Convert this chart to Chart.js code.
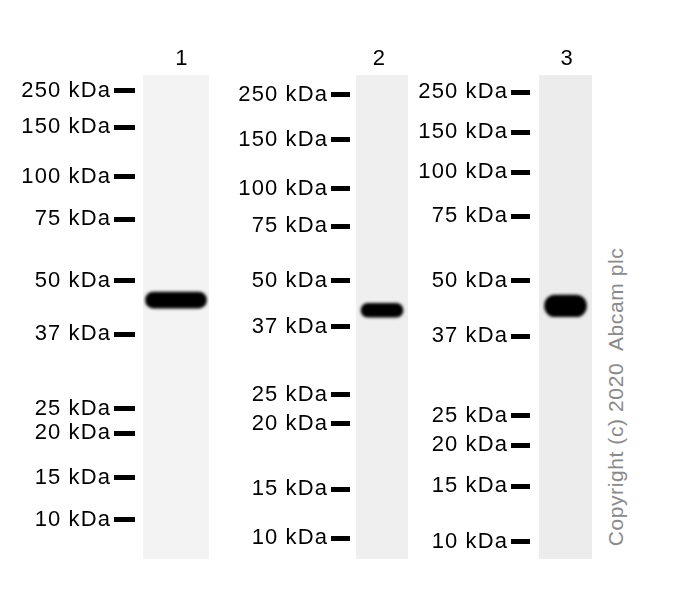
<!DOCTYPE html>
<html><head><meta charset="utf-8">
<script src="https://cdn.jsdelivr.net/npm/chart.js@4.4.1/dist/chart.umd.min.js"></script>
<style>
html,body{margin:0;padding:0;background:#fff;}
#wrap{position:relative;width:688px;height:600px;overflow:hidden;background:#fff;}
canvas{position:absolute;top:0;}
#copy{position:absolute;left:616px;top:397px;transform:translate(-50%,-50%) rotate(-90deg);white-space:pre;font:21px "Liberation Sans",Arial,sans-serif;letter-spacing:0.6px;color:#8a8a8a;}
</style></head><body>
<div id="wrap">
<canvas id="c0" width="215" height="600" style="left:0px;width:215px;height:600px"></canvas>
<canvas id="c1" width="200" height="600" style="left:215px;width:200px;height:600px"></canvas>
<canvas id="c2" width="185" height="600" style="left:415px;width:185px;height:600px"></canvas>
<div id="copy">Copyright (c) 2020  Abcam plc</div>
</div>
<script>
// ---- data ----
const laneNames = ['1', '2', '3'];
const markerKDa = [250, 150, 100, 75, 50, 37, 25, 20, 15, 10];
// relative migration (0 = top of lane, 1 = bottom) of each marker, per lane
const markerRfLane1 = [0.032, 0.108, 0.210, 0.298, 0.425, 0.536, 0.690, 0.740, 0.832, 0.919];
const markerRfLane2 = [0.041, 0.134, 0.235, 0.312, 0.425, 0.520, 0.661, 0.720, 0.856, 0.957];
const markerRfLane3 = [0.036, 0.118, 0.201, 0.292, 0.425, 0.540, 0.704, 0.765, 0.850, 0.964];
// detected band: relative migration of centre and band spread
const bandRf = [0.465, 0.486, 0.477];
const bandSpread = [0.033, 0.029, 0.045];

// ---- layout / style (not data) ----
const FONT = '"Liberation Sans", Arial, Helvetica, sans-serif';
const layouts = [
  {axisW: 143, padRight: 6, dash: 21, gap: 8, bar: 61, labelX: 0.59, color: '#f3f3f3'},
  {axisW: 141, padRight: 7, dash: 19, gap: 6, bar: 42, labelX: 0.45, color: '#efefef'},
  {axisW: 124, padRight: 8, dash: 19, gap: 9, bar: 42, labelX: 0.53, color: '#ececec'}
];
const markerRfs = [markerRfLane1, markerRfLane2, markerRfLane3];

const laneBg = {
  id: 'laneBg',
  beforeDraw(chart, args, opts) {
    const {ctx, chartArea: a} = chart;
    ctx.letterSpacing = '1.1px';
    ctx.save();
    ctx.fillStyle = opts.color;
    ctx.fillRect(a.left, a.top, a.right - a.left, a.bottom - a.top);
    ctx.restore();
  },
  beforeDatasetsDraw(chart) {
    chart.ctx.save();
    chart.ctx.filter = 'blur(1.7px)';
  },
  afterDatasetsDraw(chart) {
    chart.ctx.restore();
  }
};

laneNames.forEach((name, i) => {
  const L = layouts[i];
  const rfs = markerRfs[i];
  new Chart(document.getElementById('c' + i), {
    type: 'bar',
    data: {
      datasets: [{
        data: [{x: 0.5, y: [bandRf[i] - bandSpread[i] / 2, bandRf[i] + bandSpread[i] / 2]}],
        backgroundColor: '#000',
        borderWidth: 0,
        borderSkipped: false,
        borderRadius: 14,
        barThickness: L.bar
      }]
    },
    plugins: [laneBg],
    options: {
      responsive: false,
      animation: false,
      events: [],
      layout: {padding: {left: 0, right: L.padRight, top: 0, bottom: 41}},
      plugins: {
        legend: {display: false},
        tooltip: {enabled: false},
        title: {display: false},
        laneBg: {color: L.color}
      },
      scales: {
        x: {
          type: 'linear', position: 'top', min: 0, max: 1, offset: false,
          afterFit: s => { s.height = 75; },
          afterBuildTicks: s => { s.ticks = [{value: L.labelX}]; },
          grid: {display: false, drawTicks: false, offset: false},
          border: {display: false},
          ticks: {autoSkip: false, maxRotation: 0, padding: 3, color: '#000',
                  font: {family: FONT, size: 22}, callback: () => name}
        },
        y: {
          type: 'linear', position: 'left', reverse: true, min: 0, max: 1,
          afterFit: s => { s.width = L.axisW; },
          afterBuildTicks: s => { s.ticks = rfs.map(v => ({value: v})); },
          grid: {display: true, drawOnChartArea: false, drawTicks: true,
                 tickLength: L.dash + L.gap, tickWidth: 5, tickColor: '#000',
                 tickBorderDash: [L.dash, L.gap]},
          border: {display: false},
          ticks: {autoSkip: false, padding: 3, color: '#000',
                  font: {family: FONT, size: 22},
                  callback: (v, idx) => markerKDa[idx] + ' kDa'}
        }
      }
    }
  });
});
</script>
</body></html>
